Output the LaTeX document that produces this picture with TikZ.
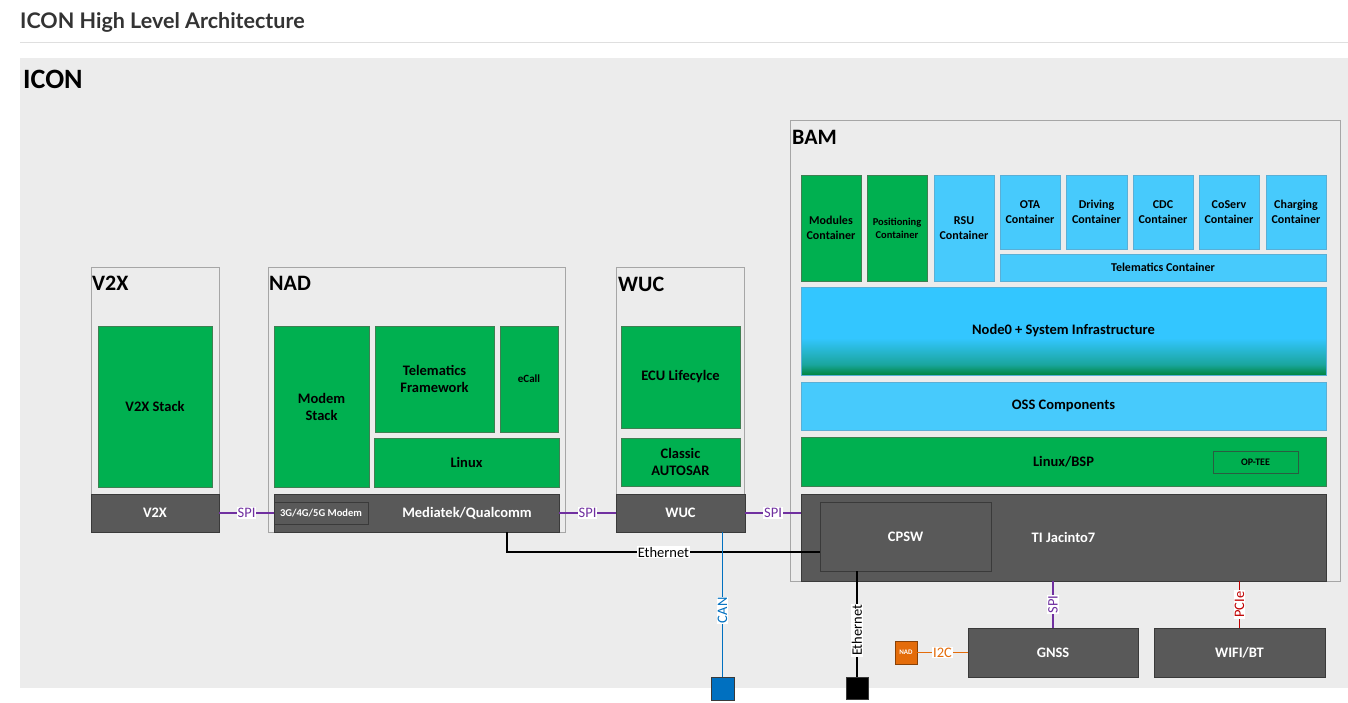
\documentclass[tikz,border=0pt]{standalone}
\usepackage{fontspec}
\setmainfont{Carlito}
\newfontfamily\titlefont{Lato}
\usetikzlibrary{positioning,calc}

\definecolor{panelgray}{HTML}{ECECEC}
\definecolor{boxline}{HTML}{A6A6A6}
\definecolor{blkgreen}{HTML}{00B050}
\definecolor{greenline}{HTML}{3F7F52}
\definecolor{blkblue}{HTML}{47CAFC}
\definecolor{blueline}{HTML}{5AAFD6}
\definecolor{nzblue}{HTML}{33C6FF}
\definecolor{nzgreen}{HTML}{00853C}
\definecolor{blkdark}{HTML}{595959}
\definecolor{darkline}{HTML}{3A3A3A}
\definecolor{spipurple}{HTML}{7030A0}
\definecolor{canblue}{HTML}{0070C0}
\definecolor{i2corange}{HTML}{E46C0A}
\definecolor{pciered}{HTML}{C00000}
\definecolor{titlegray}{HTML}{333333}

\pgfdeclareverticalshading{nodezero}{100bp}{color(0bp)=(nzgreen); color(25bp)=(nzgreen); color(31bp)=(nzgreen!50!nzblue); color(46bp)=(nzblue); color(100bp)=(nzblue)}

\begin{document}
\begin{tikzpicture}[
  x=1pt, y=-1pt,
  sysbox/.style={rectangle, draw=boxline, fill=panelgray, line width=1pt, inner sep=0pt, outer sep=0pt},
  greenblk/.style={rectangle, draw=greenline, fill=blkgreen, line width=0.8pt, align=center, inner sep=1pt, outer sep=0pt, font=\bfseries\fontsize{14.5}{17}\selectfont},
  blueblk/.style={rectangle, draw=blueline, fill=blkblue, line width=0.8pt, align=center, inner sep=1pt, outer sep=0pt, font=\bfseries\fontsize{12}{15}\selectfont},
  darkblk/.style={rectangle, draw=darkline, fill=blkdark, line width=0.8pt, align=center, inner sep=1pt, outer sep=0pt, text=white, font=\bfseries\fontsize{14.5}{17}\selectfont},
  heading/.style={anchor=west, inner sep=0pt, font=\bfseries\fontsize{22}{25}\selectfont},
  lbl/.style={fill=white, inner sep=1pt, font=\fontsize{14.5}{16}\selectfont},
  link/.style={line width=1.6pt},
  spi/.style={link, spipurple},
]
\useasboundingbox (0,0) rectangle (1348,703);

% === PAGE HEADER ===
\node[anchor=west, inner sep=0pt, text=titlegray, font=\titlefont\bfseries\fontsize{21.5}{25}\selectfont] (title) at (20,22) {ICON High Level Architecture};
\draw[gray!25, line width=1pt] (20,43) -- (1348,43);
\fill[panelgray] (20,58) rectangle (1348,688);
\node[heading, font=\bfseries\fontsize{28}{32}\selectfont] (icon) at (23,79) {ICON};

% === V2X ===
\node[sysbox, minimum width=128pt, minimum height=265pt] (v2x) at (155,399.5) {};
\node[heading] (v2xhead) at (92,283) {V2X};
\node[greenblk, minimum width=114pt, minimum height=161pt] (v2xstack) at (155,406.5) {V2X Stack};
\node[darkblk, minimum width=128pt, minimum height=38pt] (v2xbar) at (155,513) {V2X};

% === NAD ===
\node[sysbox, minimum width=297pt, minimum height=265pt] (nad) at (416.5,399.5) {};
\node[heading] (nadhead) at (269,283) {NAD};
\node[greenblk, minimum width=95pt, minimum height=161pt] (modem) at (321.5,406.5) {Modem\\Stack};
\node[greenblk, minimum width=119pt, minimum height=106pt] (telfw) at (434.5,379) {Telematics\\Framework};
\node[greenblk, minimum width=58pt, minimum height=106pt, font=\bfseries\fontsize{11}{13}\selectfont] (ecall) at (529,379) {eCall};
\node[greenblk, minimum width=185pt, minimum height=49pt] (nadlinux) at (466.5,462.5) {Linux};
\node[darkblk, minimum width=285pt, minimum height=38pt] (mtk) at (416.5,513) {};
\node[text=white, font=\bfseries\fontsize{14.5}{17}\selectfont] (mtklabel) at (467,513) {Mediatek/Qualcomm};
\node[darkblk, minimum width=94pt, minimum height=22pt, font=\bfseries\fontsize{10.5}{12}\selectfont] (modemchip) at (321,513) {3G/4G/5G Modem};

% === WUC ===
\node[sysbox, minimum width=128pt, minimum height=265pt] (wuc) at (680,399.5) {};
\node[heading] (wuchead) at (618,284) {WUC};
\node[greenblk, minimum width=119pt, minimum height=102pt] (ecu) at (680.5,377) {ECU Lifecylce};
\node[greenblk, minimum width=119pt, minimum height=48pt] (autosar) at (680.5,462) {Classic\\AUTOSAR};
\node[darkblk, minimum width=129pt, minimum height=38pt] (wucbar) at (680.5,513) {WUC};

% === BAM ===
\node[sysbox, minimum width=550pt, minimum height=460pt] (bam) at (1065,351) {};
\node[heading] (bamhead) at (792,137) {BAM};
\node[greenblk, minimum width=60pt, minimum height=106pt, font=\bfseries\fontsize{12}{15}\selectfont] (modules) at (831,228) {Modules\\Container};
\node[greenblk, minimum width=60pt, minimum height=106pt, font=\bfseries\fontsize{10.5}{13}\selectfont] (positioning) at (897,228) {Positioning\\Container};
\node[blueblk, minimum width=60pt, minimum height=106pt] (rsu) at (964,228) {RSU\\Container};
\node[blueblk, minimum width=60pt, minimum height=74pt] (ota) at (1030,212) {OTA\\Container};
\node[blueblk, minimum width=61pt, minimum height=74pt] (driving) at (1096.5,212) {Driving\\Container};
\node[blueblk, minimum width=60pt, minimum height=74pt] (cdc) at (1163,212) {CDC\\Container};
\node[blueblk, minimum width=60pt, minimum height=74pt] (coserv) at (1229,212) {CoServ\\Container};
\node[blueblk, minimum width=60pt, minimum height=74pt] (charging) at (1296,212) {Charging\\Container};
\node[blueblk, minimum width=326pt, minimum height=27pt] (telcont) at (1163,267.5) {Telematics Container};
\node[blueblk, shading=nodezero, minimum width=525pt, minimum height=88pt, font=\bfseries\fontsize{14.5}{17}\selectfont] (nodezero) at (1063.5,331) {Node0 + System Infrastructure};
\node[blueblk, minimum width=525pt, minimum height=48pt, font=\bfseries\fontsize{14.5}{17}\selectfont] (oss) at (1063.5,406) {OSS Components};
\node[greenblk, minimum width=525pt, minimum height=49pt] (bsp) at (1063.5,461.5) {Linux/BSP};
\node[greenblk, draw=darkline!70!blkgreen, minimum width=85pt, minimum height=22pt, font=\bfseries\fontsize{10}{12}\selectfont] (optee) at (1255.5,462) {OP-TEE};
\node[darkblk, minimum width=525pt, minimum height=87pt] (jacinto) at (1063.5,537.5) {TI Jacinto7};
\node[darkblk, minimum width=171pt, minimum height=69pt] (cpsw) at (905.5,536.5) {CPSW};

% === PERIPHERALS ===
\node[darkblk, minimum width=170pt, minimum height=49pt] (gnss) at (1053,652.5) {GNSS};
\node[darkblk, minimum width=171pt, minimum height=49pt] (wifi) at (1239.5,652.5) {WIFI/BT};
\node[darkblk, fill=i2corange, draw=i2corange!60!black, minimum width=22pt, minimum height=23pt, font=\bfseries\fontsize{7}{8}\selectfont] (nadchip) at (906,652.5) {NAD};
\node[rectangle, draw=darkline, fill=canblue, minimum width=23pt, minimum height=23pt, inner sep=0pt, outer sep=0pt] (canport) at (722.5,688.5) {};
\node[rectangle, draw=darkline, fill=black, minimum width=22pt, minimum height=22pt, inner sep=0pt, outer sep=0pt] (ethport) at (857,688) {};

% === LINKS ===
\draw[spi] (v2xbar.east) -- (mtk.west) node[lbl, text=spipurple, midway] {SPI};
\draw[spi] (mtk.east) -- (wucbar.west) node[lbl, text=spipurple, midway] {SPI};
\draw[spi] (wucbar.east) -- (wucbar.east -| jacinto.west) node[lbl, text=spipurple, midway] {SPI};
\coordinate (ethtap) at ($(mtk.south west)!0.817!(mtk.south east)$);
\draw[link, black] (ethtap) |- ($(cpsw.south west)!0.275!(cpsw.north west)$) node[lbl, pos=.75] {Ethernet};
\draw[link, canblue] (canport.north) -- (canport.north |- wucbar.south) node[lbl, text=canblue, rotate=90, pos=.46] {CAN};
\draw[link, black] (ethport.north) -- (ethport.north |- cpsw.south) node[lbl, rotate=90, pos=.44] {Ethernet};
\draw[spi] (gnss.north) -- (gnss.north |- jacinto.south) node[lbl, text=spipurple, rotate=90, midway] {SPI};
\draw[link, pciered] (wifi.north) -- (wifi.north |- jacinto.south) node[lbl, text=pciered, rotate=90, midway] {PCIe};
\draw[link, i2corange] (nadchip.east) -- (gnss.west) node[lbl, text=i2corange, midway] {I2C};
\end{tikzpicture}
\end{document}
